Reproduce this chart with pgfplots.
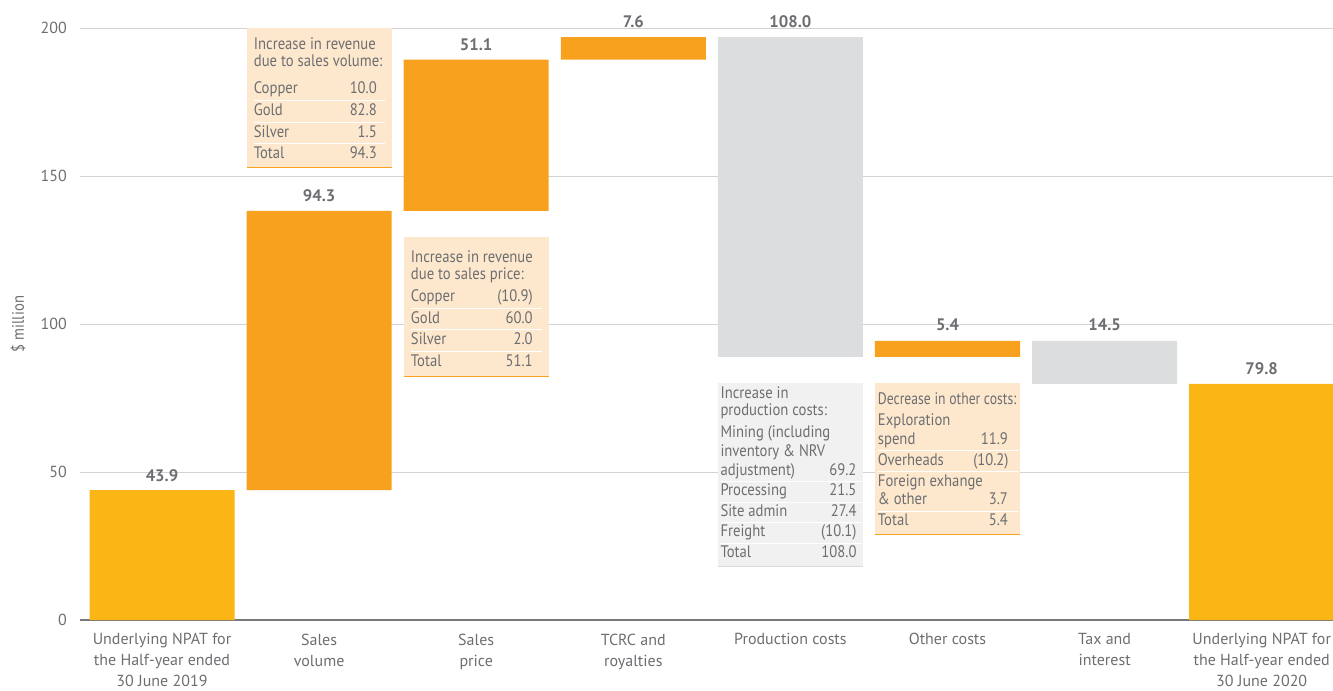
\documentclass[border=0pt]{standalone}
\usepackage{pgfplots}
\pgfplotsset{compat=1.18}
\usepackage{pgfplotstable}
\usepackage{fontspec}
\setmainfont{PT Sans}
\newfontfamily\condfont[FakeStretch=0.88]{PT Sans}
\newfontfamily\condfontb[FakeStretch=0.82]{PT Sans}
\usepackage{array}
\usepackage{colortbl}
\definecolor{txt}{HTML}{6D6E71}
\definecolor{yel}{HTML}{FBB515}
\definecolor{org}{HTML}{F7A11F}
\definecolor{gbar}{HTML}{DCDDDE}
\definecolor{peach}{HTML}{FDE8CD}
\definecolor{gbox}{HTML}{F1F1F1}
\definecolor{gline}{HTML}{D9D9D9}
\definecolor{gridc}{HTML}{D1D3D4}
\definecolor{axisc}{HTML}{77787B}

\pgfplotstableread{
pos base yel org gry
0 0 43.9 0 0
1 43.9 0 94.3 0
2 138.2 0 51.1 0
3 189.3 0 7.6 0
4 88.9 0 0 108.0
5 88.9 0 5.4 0
6 79.8 0 0 14.5
7 0 79.8 0 0
}\wf

\newcommand{\boxfont}{\condfont\fontsize{12.5}{14}\selectfont\color{txt}\arrayrulecolor{white}\setlength{\arrayrulewidth}{0.75pt}}
\newcolumntype{L}[1]{>{\raggedright\arraybackslash}b{#1}}
\newcolumntype{R}[1]{>{\raggedleft\arraybackslash}b{#1}}

\begin{document}
\begin{tikzpicture}
\path[use as bounding box] (-60pt,-52.5pt) rectangle (939.75pt,465pt);
\begin{axis}[
  at={(0,0)}, anchor=south west,
  scale only axis, width=939.75pt, height=444pt,
  xmin=-0.522, xmax=7.454, ymin=0, ymax=200,
  ybar stacked, bar width=0.923,
  xtick={0,...,7},
  xticklabels={{Underlying NPAT for\\the Half-year ended\\30 June 2019},{Sales\\volume},{Sales\\price},{TCRC and\\royalties},{Production costs},{Other costs},{Tax and\\interest},{Underlying NPAT for\\the Half-year ended\\30 June 2020}},
  xticklabel style={align=center, font=\fontsize{12}{15.75}\selectfont, text=txt, inner sep=0pt, anchor=north, yshift=-10pt},
  ytick={0,50,...,200},
  yticklabel style={font=\fontsize{12}{14}\selectfont, text=txt, inner sep=0pt, anchor=east, xshift=-9.75pt},
  /pgf/number format/assume math mode=true,
  ymajorgrids, grid style={gridc, line width=0.75pt},
  major tick length=0pt,
  axis x line*=bottom, axis y line*=left,
  x axis line style={axisc, line width=1.5pt, -},
  y axis line style={draw=none},
  clip=false,
]
\addplot[draw=none, fill=none] table[x=pos, y=base] {\wf};
\addplot[fill=yel, draw=none] table[x=pos, y=yel] {\wf};
\addplot[fill=org, draw=none] table[x=pos, y=org] {\wf};
\addplot[fill=gbar, draw=none] table[x=pos, y=gry] {\wf};

% annotation boxes
\fill[peach] (axis cs:0.5385,153) rectangle (axis cs:1.4615,200);
\draw[org, line width=1.5pt] (axis cs:0.5385,153) -- (axis cs:1.4615,153);
\fill[peach] (axis cs:1.5385,82.4) rectangle (axis cs:2.4615,129.4);
\draw[org, line width=1.5pt] (axis cs:1.5385,82.4) -- (axis cs:2.4615,82.4);
\fill[gbox] (axis cs:3.5385,18.2) rectangle (axis cs:4.4615,80.1);
\draw[gline, line width=1.5pt] (axis cs:3.5385,18.2) -- (axis cs:4.4615,18.2);
\fill[peach] (axis cs:4.5385,29.05) rectangle (axis cs:5.4615,80.1);
\draw[org, line width=1.5pt] (axis cs:4.5385,29.05) -- (axis cs:5.4615,29.05);

\coordinate (v0) at (axis cs:0,43.9);
\coordinate (v1) at (axis cs:1,138.2);
\coordinate (v2) at (axis cs:2,189.3);
\coordinate (v3) at (axis cs:3,196.9);
\coordinate (v4) at (axis cs:4,196.9);
\coordinate (v5) at (axis cs:5,94.3);
\coordinate (v6) at (axis cs:6,94.3);
\coordinate (v7) at (axis cs:7,79.8);
\coordinate (t1) at (axis cs:0.5385,192.7);
\coordinate (t2) at (axis cs:1.5385,120.7);
\coordinate (t3) at (axis cs:3.5385,74.7);
\coordinate (t4) at (axis cs:4.5385,72.9);
\coordinate (yl) at (rel axis cs:0,0.5);
\end{axis}

% value labels
\begin{scope}[every node/.style={font=\bfseries\fontsize{12.5}{14}\selectfont, text=txt, anchor=base}]
\node at ([yshift=6.5pt]v0) {43.9};
\node at ([yshift=7pt]v1) {94.3};
\node at ([yshift=7pt]v2) {51.1};
\node at ([yshift=7pt]v3) {7.6};
\node at ([yshift=7pt]v4) {108.0};
\node at ([yshift=8pt]v5) {5.4};
\node at ([yshift=8pt]v6) {14.5};
\node at ([yshift=7pt]v7) {79.8};
\end{scope}

\node[anchor=base west, inner sep=0pt] at ([xshift=5.25pt]t1) {\boxfont\renewcommand{\arraystretch}{1.11}%
\begin{tabular}[t]{@{}L{62.25pt}@{}R{30pt}@{\hspace{6pt}}}
\multicolumn{2}{@{}l@{}}{\mbox{Increase in revenue}}\\[-3pt]
\multicolumn{2}{@{}l@{}}{\mbox{due to sales volume:}}\\ \noalign{\vskip 5pt}
Copper & 10.0\\ \hline
Gold & 82.8\\ \hline
Silver & 1.5\\ \hline
Total & 94.3
\end{tabular}};

\node[anchor=base west, inner sep=0pt] at ([xshift=5.25pt]t2) {\boxfont\renewcommand{\arraystretch}{1.11}%
\begin{tabular}[t]{@{}L{61.3pt}@{}R{30pt}@{\hspace{6.75pt}}}
\multicolumn{2}{@{}l@{}}{\mbox{Increase in revenue}}\\[-3pt]
\multicolumn{2}{@{}l@{}}{\mbox{due to sales price:}}\\ \noalign{\vskip 1pt}
Copper & (10.9)\\ \hline
Gold & 60.0\\ \hline
Silver & 2.0\\ \hline
Total & 51.1
\end{tabular}};

\node[anchor=base west, inner sep=0pt] at ([xshift=1.75pt]t3) {\boxfont\renewcommand{\arraystretch}{1.05}%
\begin{tabular}[t]{@{}L{75pt}@{}R{27pt}@{\hspace{3.75pt}}}
\multicolumn{2}{@{}l@{}}{\mbox{Increase in}}\\[-2.5pt]
\multicolumn{2}{@{}l@{}}{\mbox{production costs:}}\\ \noalign{\vskip 2.2pt}
\mbox{Mining (including}\newline\mbox{inventory \& NRV}\newline\mbox{adjustment)} & 69.2\\ \hline
Processing & 21.5\\ \hline
Site admin & 27.4\\ \hline
Freight & (10.1)\\ \hline
Total & 108.0
\end{tabular}};

\node[anchor=base west, inner sep=0pt] at ([xshift=2pt]t4) {\boxfont\renewcommand{\arraystretch}{1.07}%
\begin{tabular}[t]{@{}L{71.5pt}@{}R{26pt}@{\hspace{7.5pt}}}
\multicolumn{2}{@{}l@{}}{\condfontb\mbox{Decrease in other costs:}}\\ \noalign{\vskip 1pt}
\mbox{Exploration}\newline\mbox{spend} & 11.9\\ \hline
Overheads & (10.2)\\ \hline
\mbox{Foreign exhange}\newline\mbox{\& other} & 3.7\\ \hline
Total & 5.4
\end{tabular}};

\node[rotate=90, font=\condfont\fontsize{12.5}{14}\selectfont, text=txt] at ([xshift=-46.5pt]yl) {\$ million};
\end{tikzpicture}
\end{document}
